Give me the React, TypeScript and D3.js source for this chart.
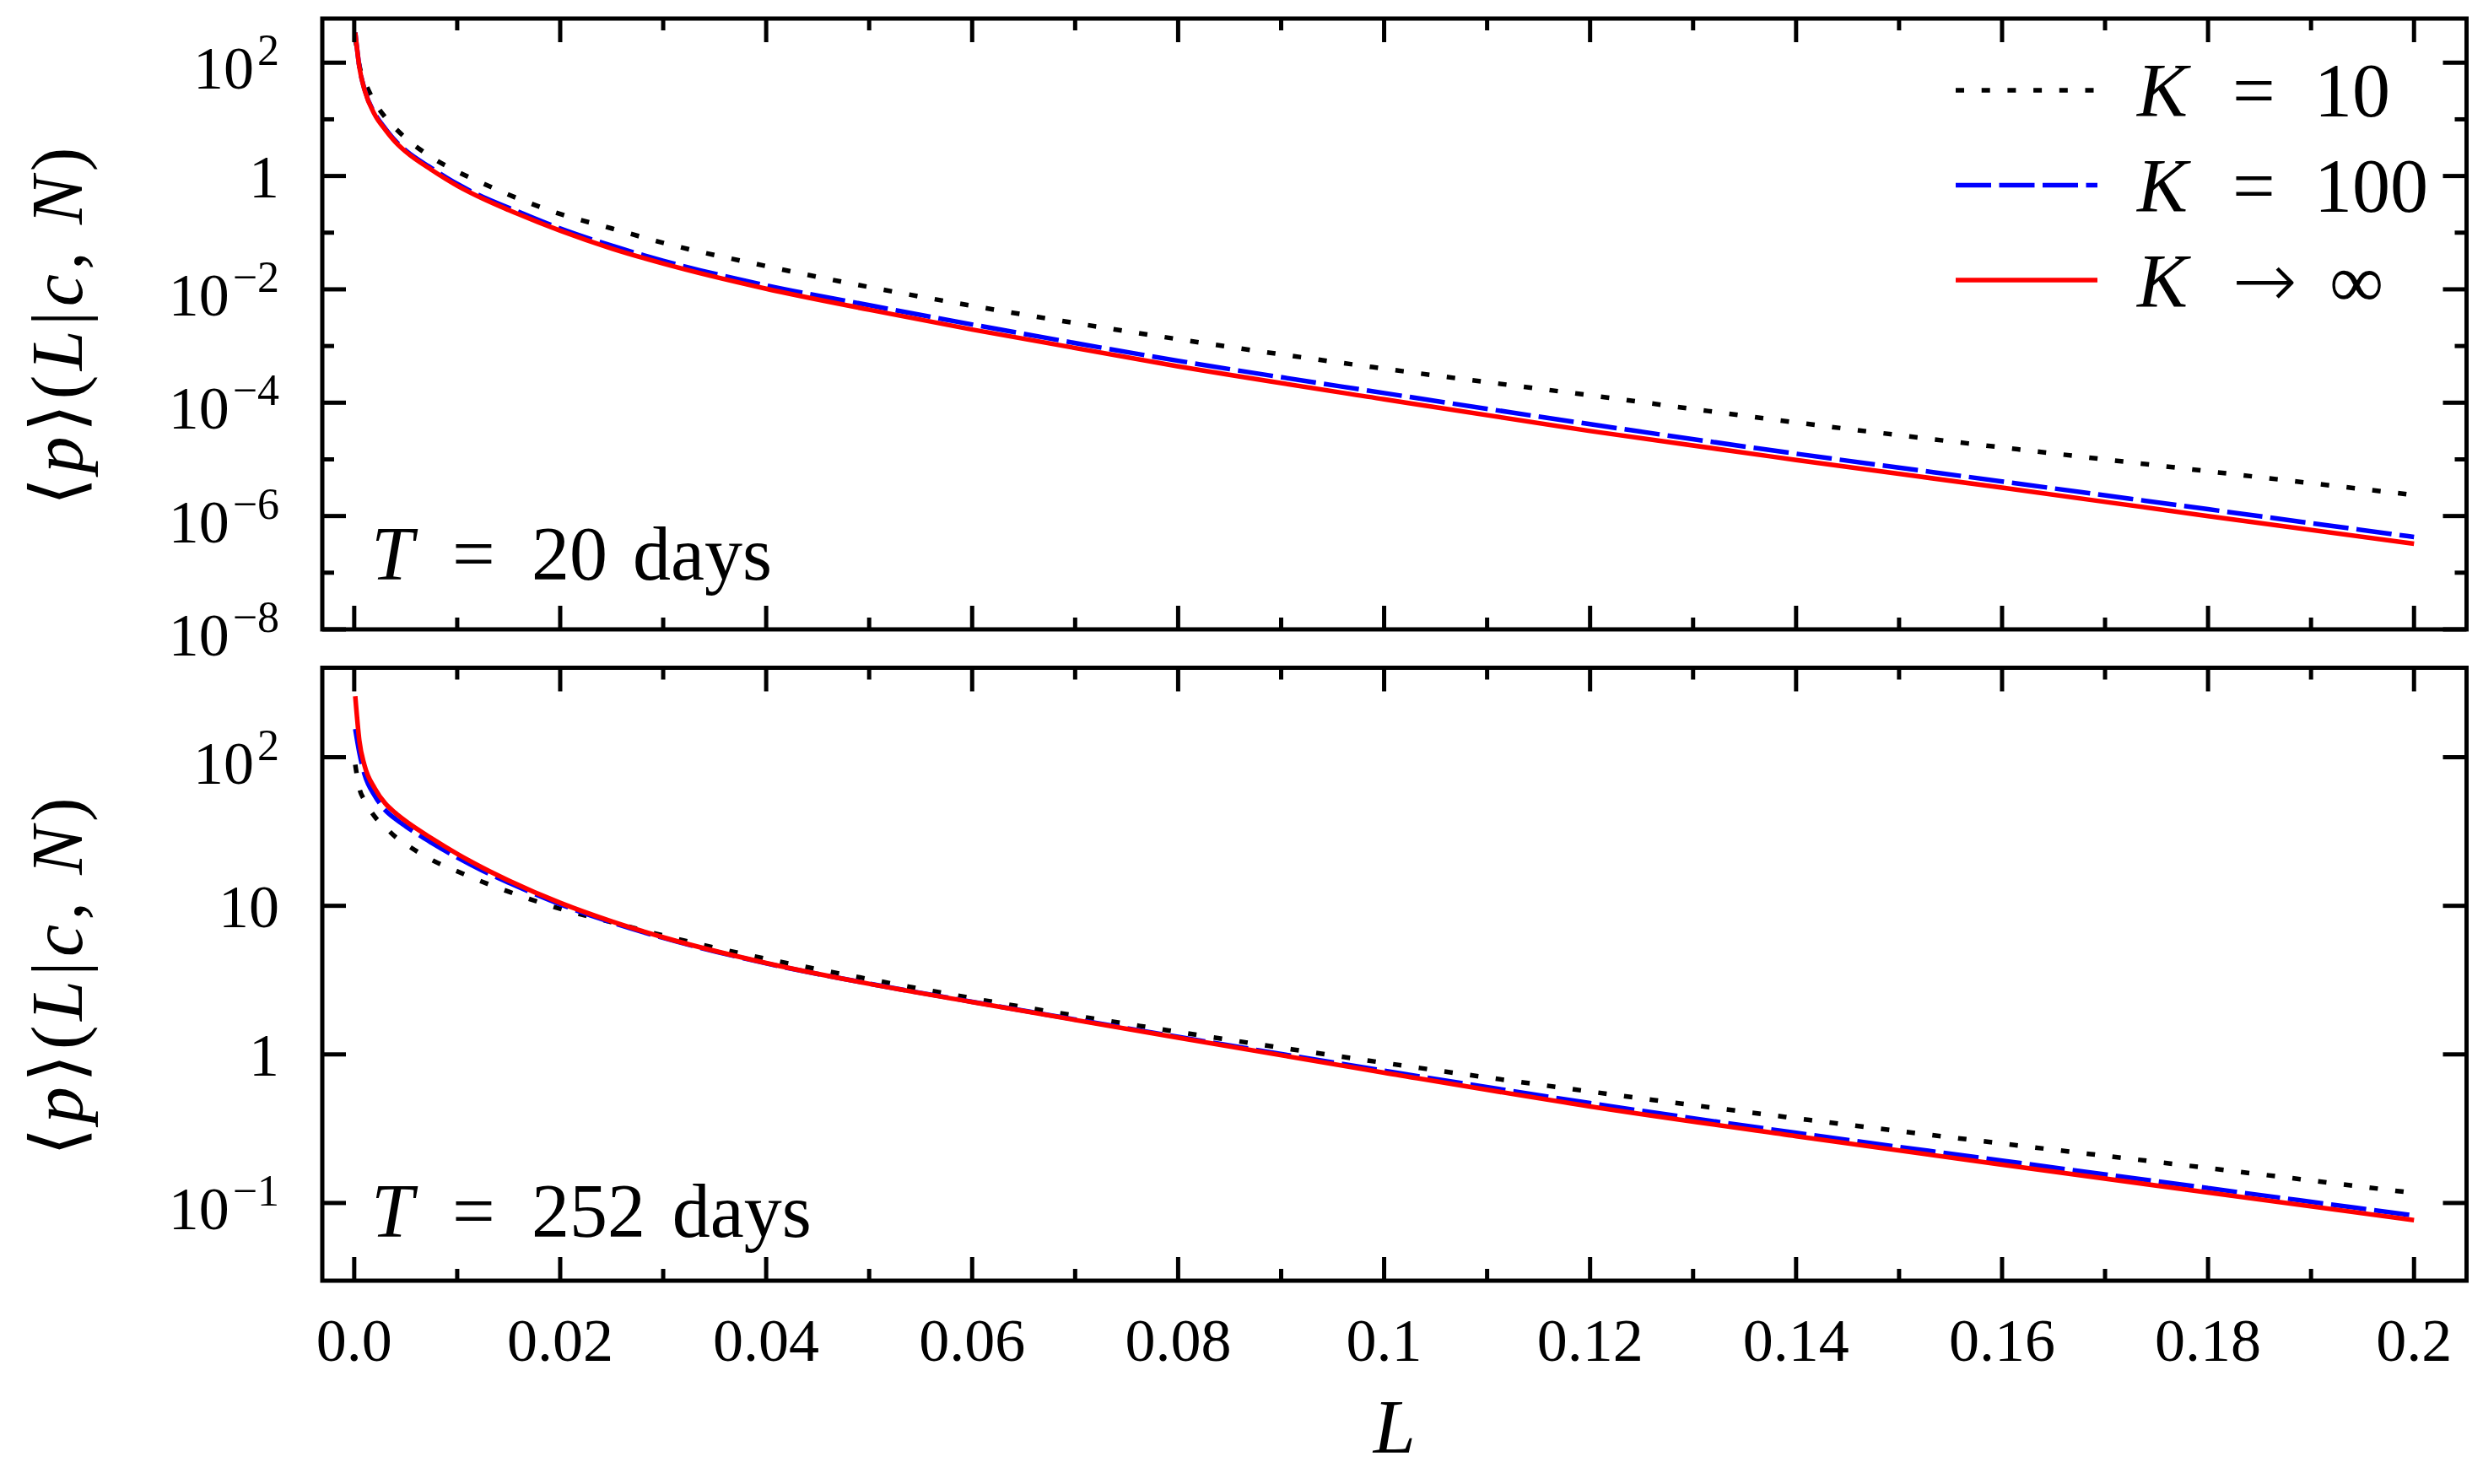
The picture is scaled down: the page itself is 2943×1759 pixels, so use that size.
import { useEffect, useRef } from "react";
import * as d3 from "d3";

const WIDTH = 2943;
const HEIGHT = 1759;

const lValues = [0.0001, 0.0005, 0.001, 0.002, 0.003, 0.004, 0.005, 0.0075, 0.01, 0.0125, 0.015, 0.02,
    0.025, 0.03, 0.04, 0.05, 0.06, 0.08, 0.1, 0.12, 0.14, 0.16, 0.18, 0.2];

// log10 <p>(L|c,N), T = 20 days
const days20K10 = [2.45, 1.95, 1.68, 1.30, 1.04, 0.84, 0.67, 0.33, 0.08, -0.13, -0.33, -0.67,
    -0.925, -1.18, -1.59, -1.96, -2.29, -2.88, -3.40, -3.87, -4.35, -4.79, -5.21, -5.63];
const days20K100 = [2.53, 1.93, 1.53, 1.10, 0.84, 0.62, 0.45, 0.14, -0.14, -0.37, -0.56, -0.925,
    -1.23, -1.495, -1.93, -2.28, -2.62, -3.26, -3.83, -4.38, -4.90, -5.39, -5.88, -6.37];
const days20KInf = [2.53, 1.92, 1.52, 1.08, 0.82, 0.60, 0.43, 0.11, -0.17, -0.40, -0.60, -0.965,
    -1.28, -1.545, -1.99, -2.36, -2.71, -3.36, -3.94, -4.50, -5.01, -5.50, -6.00, -6.49];

// log10 <p>(L|c,N), T = 252 days
const days252K10 = [1.95, 1.79, 1.71, 1.60, 1.53, 1.464, 1.415, 1.31, 1.232, 1.16, 1.095, 0.98,
    0.89, 0.80, 0.643, 0.506, 0.378, 0.151, -0.057, -0.25, -0.43, -0.60, -0.765, -0.933];
const days252K100 = [2.19, 2.03, 1.885, 1.74, 1.645, 1.585, 1.535, 1.425, 1.325, 1.235, 1.155, 1.01,
    0.888, 0.784, 0.613, 0.476, 0.354, 0.118, -0.11, -0.328, -0.528, -0.715, -0.90, -1.084];
const days252KInf = [2.41, 2.11, 1.945, 1.79, 1.69, 1.625, 1.57, 1.455, 1.35, 1.255, 1.17, 1.02,
    0.895, 0.788, 0.615, 0.475, 0.352, 0.112, -0.123, -0.35, -0.55, -0.742, -0.93, -1.116];

const xMajorTicks = [0, 0.02, 0.04, 0.06, 0.08, 0.1, 0.12, 0.14, 0.16, 0.18, 0.2];
const xMajorLabels = ["0.0", "0.02", "0.04", "0.06", "0.08", "0.1", "0.12", "0.14", "0.16", "0.18", "0.2"];
const xMinorTicks = [0.01, 0.03, 0.05, 0.07, 0.09, 0.11, 0.13, 0.15, 0.17, 0.19];

const topYTicks = [1e2, 1, 1e-2, 1e-4, 1e-6, 1e-8];
const topYLabels = [["10", "2"], ["1", ""], ["10", "−2"], ["10", "−4"], ["10", "−6"], ["10", "−8"]];
const topYMinor = [1e1, 1e-1, 1e-3, 1e-5, 1e-7];
const bottomYTicks = [1e2, 1e1, 1, 1e-1];
const bottomYLabels = [["10", "2"], ["10", ""], ["1", ""], ["10", "−1"]];

const legendRel = ["=", "=", "→"];
const legendVal = ["10", "100", "∞"];

const styles = [
    { color: "#000000", dash: "10 20.7" },
    { color: "#0000ff", dash: "42 9.5" },
    { color: "#ff0000", dash: null },
];

const panels = [
    {
        top: 22, bottom: 746, domain: [1e-8, 600],
        yTicks: topYTicks, yLabels: topYLabels, yMinor: topYMinor,
        series: [days20K10, days20K100, days20KInf],
        days: "20", daysX: 750, noteY: 686.7,
    },
    {
        top: 791.5, bottom: 1518, domain: [0.03, 400],
        yTicks: bottomYTicks, yLabels: bottomYLabels, yMinor: [],
        series: [days252K10, days252K100, days252KInf],
        days: "252", daysX: 796.7, noteY: 1465.6,
    },
];

const App = () => {
    const svgRef = useRef(null);

    useEffect(() => {
        const svg = d3.select(svgRef.current);
        svg.selectAll("*").remove();

        const font = "'Liberation Serif', 'DejaVu Serif', serif";
        const left = 382, right = 2923.5;
        const xScale = d3.scaleLinear().domain([-0.0031, 0.2051]).range([left, right]);

        panels.forEach((p, pi) => {
            const yScale = d3.scaleLog().domain(p.domain).range([p.bottom, p.top]);
            const g = svg.append("g");

            const clipId = `panel-clip-${pi}`;
            svg.append("clipPath").attr("id", clipId)
                .append("rect")
                .attr("x", left).attr("y", p.top)
                .attr("width", right - left).attr("height", p.bottom - p.top);

            const lineGenerator = d3.line()
                .x((_, i) => xScale(lValues[i]))
                .y(d => yScale(Math.pow(10, d)))
                .curve(d3.curveMonotoneX);

            p.series.forEach((s, si) => {
                g.append("path")
                    .datum(s)
                    .attr("d", lineGenerator)
                    .attr("clip-path", `url(#${clipId})`)
                    .attr("fill", "none")
                    .attr("stroke", styles[si].color)
                    .attr("stroke-width", 5.5)
                    .attr("stroke-dasharray", styles[si].dash);
            });

            const tick = (x1, y1, x2, y2) => g.append("line")
                .attr("x1", x1).attr("y1", y1).attr("x2", x2).attr("y2", y2)
                .attr("stroke", "#000").attr("stroke-width", 5);

            xMajorTicks.forEach(v => {
                tick(xScale(v), p.bottom, xScale(v), p.bottom - 28);
                tick(xScale(v), p.top, xScale(v), p.top + 28);
            });
            xMinorTicks.forEach(v => {
                tick(xScale(v), p.bottom, xScale(v), p.bottom - 14);
                tick(xScale(v), p.top, xScale(v), p.top + 14);
            });
            p.yTicks.forEach(v => {
                tick(left, yScale(v), left + 28, yScale(v));
                tick(right, yScale(v), right - 28, yScale(v));
            });
            p.yMinor.forEach(v => {
                tick(left, yScale(v), left + 14, yScale(v));
                tick(right, yScale(v), right - 14, yScale(v));
            });

            g.append("rect")
                .attr("x", left).attr("y", p.top)
                .attr("width", right - left).attr("height", p.bottom - p.top)
                .attr("fill", "none").attr("stroke", "#000").attr("stroke-width", 5);

            // y tick labels, 10 with a superscript exponent
            p.yTicks.forEach((v, i) => {
                const [base, sup] = p.yLabels[i];
                const t = g.append("text")
                    .attr("x", 331)
                    .attr("y", yScale(v) + (sup ? 31 : 25))
                    .attr("text-anchor", "end")
                    .attr("font-family", font)
                    .attr("font-size", 72)
                    .text(base);
                if (sup) {
                    t.append("tspan").attr("dx", 4).attr("dy", -28).attr("font-size", 52).text(sup);
                }
            });

            // y axis label
            const cy = (p.top + p.bottom) / 2 + 3;
            const yl = g.append("text")
                .attr("transform", `translate(97, ${cy}) rotate(-90)`)
                .attr("text-anchor", "middle")
                .attr("font-family", font)
                .attr("font-size", 86)
                .attr("textLength", 425)
                .attr("lengthAdjust", "spacing");
            [["⟨", false], ["p", true], ["⟩", false], ["(", false], ["L", true], ["|", false],
                ["c", true], [", ", false], ["N", true], [")", false]].forEach(([s, it]) => {
                    yl.append("tspan").attr("font-style", it ? "italic" : "normal").text(s);
                });

            // T = ... days
            const note = g.append("text")
                .attr("y", p.noteY)
                .attr("font-family", font)
                .attr("font-size", 90);
            note.append("tspan").attr("x", 440).attr("font-style", "italic").text("T");
            note.append("tspan").attr("x", 536).text("=");
            note.append("tspan").attr("x", 630).text(p.days);
            note.append("tspan").attr("x", p.daysX).text("days");

            if (pi === 1) {
                xMajorTicks.forEach((v, i) => {
                    g.append("text")
                        .attr("x", xScale(v))
                        .attr("y", 1613)
                        .attr("text-anchor", "middle")
                        .attr("font-family", font)
                        .attr("font-size", 72)
                        .text(xMajorLabels[i]);
                });
            }
        });

        // x axis label
        svg.append("text")
            .attr("x", (left + right) / 2)
            .attr("y", 1722)
            .attr("text-anchor", "middle")
            .attr("font-family", font)
            .attr("font-size", 90)
            .attr("font-style", "italic")
            .text("L");

        // legend
        const legendLineY = [107, 219.5, 332];
        const legendTextY = [138, 251, 363.5];
        styles.forEach((st, i) => {
            svg.append("line")
                .attr("x1", 2318).attr("x2", 2486)
                .attr("y1", legendLineY[i]).attr("y2", legendLineY[i])
                .attr("stroke", st.color)
                .attr("stroke-width", 5.5)
                .attr("stroke-dasharray", st.dash);
            const t = svg.append("text")
                .attr("y", legendTextY[i])
                .attr("font-family", font)
                .attr("font-size", 90);
            t.append("tspan").attr("x", 2533).attr("font-style", "italic").text("K");
            const rel = t.append("tspan").attr("x", 2646).text(legendRel[i]);
            if (i === 2) {
                rel.attr("font-family", "'DejaVu Sans', sans-serif").attr("font-size", 92).attr("font-weight", 300);
            }
            t.append("tspan").attr("x", i === 2 ? 2761 : 2743).text(legendVal[i]);
        });
    }, []);

    return (
        <svg ref={svgRef} width={WIDTH} height={HEIGHT}
            style={{ position: "absolute", left: 0, top: 0, background: "#fff" }}></svg>
    );
};

export default App;
